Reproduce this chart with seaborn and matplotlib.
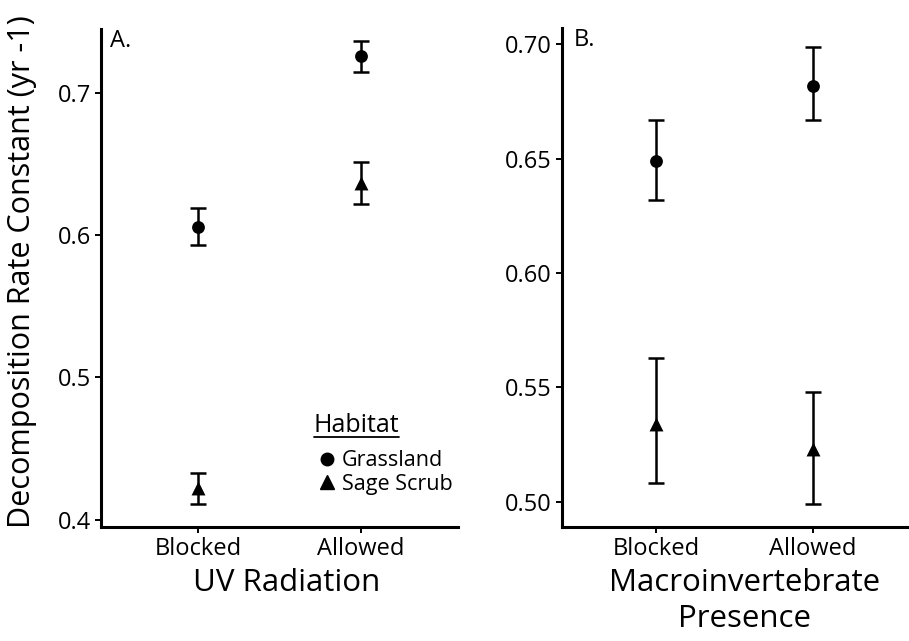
import matplotlib
matplotlib.use("Agg")
import matplotlib.pyplot as plt
import seaborn as sns
import pandas as pd
from matplotlib.lines import Line2D

categories = ["Blocked", "Allowed"]
habitats = ["Grassland", "Sage Scrub"]

# A. UV radiation
uv_grass = [0.606, 0.726]
uv_grass_lo = [0.593, 0.715]
uv_grass_hi = [0.619, 0.737]
uv_sage = [0.422, 0.637]
uv_sage_lo = [0.411, 0.622]
uv_sage_hi = [0.433, 0.652]

# B. macroinvertebrate presence
mac_grass = [0.649, 0.682]
mac_grass_lo = [0.632, 0.667]
mac_grass_hi = [0.667, 0.699]
mac_sage = [0.534, 0.523]
mac_sage_lo = [0.508, 0.499]
mac_sage_hi = [0.563, 0.548]

uv_ticks = [0.4, 0.5, 0.6, 0.7]
mac_ticks = [0.50, 0.55, 0.60, 0.65, 0.70]

sns.set_style("ticks")
plt.rcParams['font.family'] = ['Open Sans', 'DejaVu Sans']
plt.rcParams['text.color'] = 'black'
plt.rcParams['axes.labelcolor'] = 'black'
plt.rcParams['xtick.color'] = 'black'
plt.rcParams['ytick.color'] = 'black'

markers = {"Grassland": "o", "Sage Scrub": "^"}
sizes = {"Grassland": 85, "Sage Scrub": 100}


def make_df(grass, grass_lo, grass_hi, sage, sage_lo, sage_hi):
    rows = []
    for i, c in enumerate(categories):
        rows.append((c, "Grassland", grass[i], grass_lo[i], grass_hi[i]))
        rows.append((c, "Sage Scrub", sage[i], sage_lo[i], sage_hi[i]))
    return pd.DataFrame(rows, columns=["treatment", "habitat", "k", "lo", "hi"])


def draw_panel(ax, df, ticks, ylim, tick_fmt):
    for h in habitats:
        sub = df[df.habitat == h]
        ax.errorbar(sub.treatment, sub.k, yerr=[sub.k - sub.lo, sub.hi - sub.k],
                    fmt='none', ecolor='black', elinewidth=1.8, capsize=6, capthick=1.8)
        sns.scatterplot(data=sub, x="treatment", y="k", marker=markers[h], s=sizes[h],
                        color='black', edgecolor='black', linewidth=0, ax=ax, zorder=3)
    ax.set_xlim(-0.6, 1.6)
    ax.set_ylim(*ylim)
    ax.set_yticks(ticks)
    ax.set_yticklabels([tick_fmt.format(t) for t in ticks])
    sns.despine(ax=ax)
    for s in ["left", "bottom"]:
        ax.spines[s].set_linewidth(2.2)
        ax.spines[s].set_color('black')
    ax.tick_params(axis='both', length=4, width=1.4, color='black', labelsize=17, pad=3)


fig = plt.figure(figsize=(9.09, 6.41), dpi=100)
ax1 = fig.add_axes([0.111, 0.178, 0.393, 0.777])
ax2 = fig.add_axes([0.618, 0.178, 0.380, 0.778])

df_uv = make_df(uv_grass, uv_grass_lo, uv_grass_hi, uv_sage, uv_sage_lo, uv_sage_hi)
df_mac = make_df(mac_grass, mac_grass_lo, mac_grass_hi, mac_sage, mac_sage_lo, mac_sage_hi)

draw_panel(ax1, df_uv, uv_ticks, (0.3948, 0.7454), "{:.1f}")
draw_panel(ax2, df_mac, mac_ticks, (0.4889, 0.7071), "{:.2f}")

ax1.set_xlabel("UV Radiation", fontsize=22.5)
ax1.xaxis.set_label_coords(0.52, -0.083)
ax1.set_ylabel("Decomposition Rate Constant (yr -1)", fontsize=22)
ax1.yaxis.set_label_coords(-0.18, 0.512)
ax2.set_xlabel("Macroinvertebrate\nPresence", fontsize=22.5, linespacing=1.25)
ax2.xaxis.set_label_coords(0.53, -0.083)
ax2.set_ylabel("")

ax1.text(0.025, 1.0, "A.", transform=ax1.transAxes, va='top', ha='left', fontsize=17)
ax2.text(0.035, 1.0, "B.", transform=ax2.transAxes, va='top', ha='left', fontsize=17)

handles = [Line2D([], [], marker=markers[h], color='black', ls='none',
                  markersize=9 if h == "Grassland" else 10) for h in habitats]
leg = ax1.legend(handles, habitats, title="Habitat", loc='upper left',
                 bbox_to_anchor=(0.596, 0.229), frameon=False, fontsize=15.5,
                 title_fontsize=18, handlelength=1.2, handletextpad=0.1,
                 labelspacing=0.12, borderaxespad=0, borderpad=0)
leg._legend_box.align = "left"
leg._legend_box.sep = 9

fig.canvas.draw()
bb = leg.get_title().get_window_extent().transformed(fig.transFigure.inverted())
fig.add_artist(Line2D([bb.x0, bb.x1], [bb.y0 + 0.002, bb.y0 + 0.002],
                      color='black', lw=1.3, transform=fig.transFigure))

fig.savefig("out.png", dpi=100)
